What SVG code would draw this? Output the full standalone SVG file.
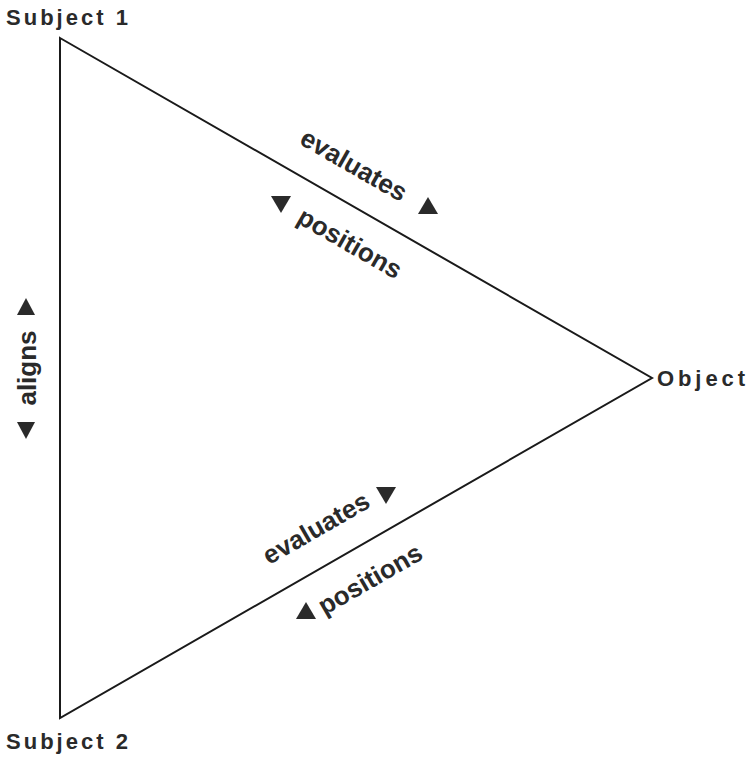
<svg xmlns="http://www.w3.org/2000/svg" width="750" height="757" viewBox="0 0 750 757">
<style>
text{font-family:"Liberation Sans",Arial,sans-serif;font-weight:bold;fill:#2a2a2a}
.n{font-size:22px;font-stretch:normal}
.l{font-size:26px;text-anchor:middle;dominant-baseline:central}
.a{fill:#2a2a2a}
</style>
<rect width="750" height="757" fill="#fff"/>
<g id="connectors" fill="none" stroke="#1a1a1a" stroke-width="2">
<polygon points="60,38 652,378 60,718"/>
</g>
<g id="subject1"><text class="n" x="6" y="25" textLength="122">Subject 1</text></g>
<g id="subject2"><text class="n" x="6" y="749" textLength="122">Subject 2</text></g>
<g id="object"><text class="n" x="657" y="386" textLength="88">Object</text></g>
<g id="labels">
<text class="l" transform="translate(354,165) rotate(29.87)">evaluates</text>
<polygon class="a" points="428,197 438,214 418,214"/>
<text class="l" transform="translate(350,243) rotate(29.87)">positions</text>
<polygon class="a" points="271,196 291,196 281,213"/>
<text class="l" transform="translate(316,528) rotate(-29.87)">evaluates</text>
<polygon class="a" points="376,487 396,487 386,504"/>
<text class="l" transform="translate(370,579) rotate(-29.87)">positions</text>
<polygon class="a" points="306,602 316,619 296,619"/>
<text class="l" transform="translate(27,368) rotate(-90)">aligns</text>
<polygon class="a" points="26,298 35,315 17,315"/>
<polygon class="a" points="17,422 35,422 26,439"/>
</g>
</svg>
